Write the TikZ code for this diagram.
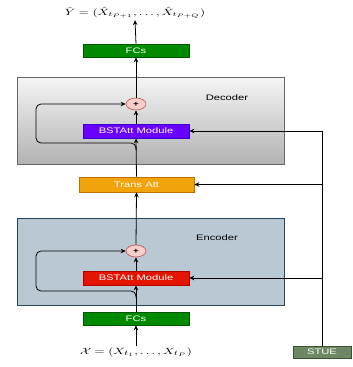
\documentclass[tikz,border=0pt]{standalone}
\usepackage{fontspec}
\setsansfont{Liberation Sans}
\usepackage{amsmath}
\usepackage{graphicx}
\usetikzlibrary{arrows.meta,shapes.geometric}
\newcommand{\sx}[1]{\scalebox{1.4}[1]{#1}}
\definecolor{fcg}{HTML}{008A00}\definecolor{fcgb}{HTML}{005700}
\definecolor{purp}{HTML}{6A00FF}\definecolor{purpb}{HTML}{3700CC}
\definecolor{redf}{HTML}{E51400}\definecolor{redb}{HTML}{B20000}
\definecolor{orf}{HTML}{F0A30A}\definecolor{orb}{HTML}{BD7000}
\definecolor{stf}{HTML}{6D8764}\definecolor{stb}{HTML}{3A5431}
\definecolor{encf}{HTML}{BAC8D3}\definecolor{encb}{HTML}{23445D}
\definecolor{plf}{HTML}{F8CECC}\definecolor{plb}{HTML}{B85450}
\begin{document}
\begin{tikzpicture}[x=1pt,y=-1pt,
  blk/.style={draw, minimum width=106pt, minimum height=14pt, inner sep=0pt,
    font=\sffamily\fontsize{8}{9}\selectfont, text=white, line width=0.6pt},
  lbl/.style={font=\sffamily\fontsize{8}{9}\selectfont, inner sep=0pt},
  frm/.style={draw, minimum width=267pt, minimum height=87pt, inner sep=0pt, line width=0.7pt},
  plus/.style={ellipse, draw=plb, fill=plf, minimum width=20pt, minimum height=12pt, inner sep=0pt,
    font=\sffamily\bfseries\fontsize{7}{8}\selectfont, line width=0.6pt},
  arr/.style={-{Stealth[length=5pt,width=4.5pt]}, line width=0.8pt},
  mth/.style={inner sep=1pt}]
\useasboundingbox (0,0) rectangle (353,367);
% frames
\node[frm, draw=black!60, top color=black!4, bottom color=black!30] (dec) at (150.5,120.5) {};
\node[frm, draw=encb, fill=encf] (enc) at (150.5,261.5) {};
\node[lbl] (declbl) at (227,98) {\sx{Decoder}};
\node[lbl] (enclbl) at (217,238) {\sx{Encoder}};
% blocks
\node[mth, font=\fontsize{9}{11}\selectfont] (yhat) at (135,13) {\sx{$\hat{Y}=(\hat{X}_{t_{P+1}},\ldots,\hat{X}_{t_{P+Q}})$}};
\node[blk, fill=fcg, draw=fcgb, minimum height=13pt] (fctop) at (136,50.5) {\sx{FCs}};
\node[plus] (plusd) at (136,104) {\sx{+}};
\node[blk, fill=purp, draw=purpb] (bstd) at (136,131) {\sx{BSTAtt Module}};
\node[blk, fill=orf, draw=orb, minimum width=115pt, minimum height=15pt] (trans) at (136.5,184.5) {\sx{Trans Att}};
\node[plus] (pluse) at (136,251) {\sx{+}};
\node[blk, fill=redf, draw=redb] (bste) at (136,278) {\sx{BSTAtt Module}};
\node[blk, fill=fcg, draw=fcgb, minimum height=13pt] (fcbot) at (136,318.5) {\sx{FCs}};
\node[mth, font=\fontsize{9.5}{11}\selectfont] (xin) at (136,352) {\sx{$\mathcal{X}=(X_{t_1},\ldots,X_{t_P})$}};
\node[blk, fill=stf, draw=stb, minimum width=58pt, minimum height=12pt] (stue) at (322,352) {\sx{STUE}};
% main flow
\draw[arr] (xin.north) -- (fcbot.south);
\draw[arr] (fcbot.north) -- (bste.south);
\draw[arr] (bste.north) -- (pluse.south);
\draw[arr] (pluse.north) -- (trans.south);
\draw[arr] (trans.north) -- (bstd.south);
\draw[arr] (bstd.north) -- (plusd.south);
\draw[arr] (plusd.north) -- (fctop.south);
\draw[arr] (fctop.north) -- (yhat.south);
% skip loops
\coordinate (je) at (136,298);
\coordinate (jd) at (136,150);
\draw[arr, rounded corners=5pt] (je) |- (36,291) |- (pluse.west);
\draw[arr, rounded corners=5pt] (jd) |- (36,143) |- (plusd.west);
% STUE connections
\draw[arr] (stue.north) |- (bstd.east);
\draw[arr] (stue.north) |- (trans.east);
\draw[arr] (stue.north) |- (bste.east);
\end{tikzpicture}
\end{document}
